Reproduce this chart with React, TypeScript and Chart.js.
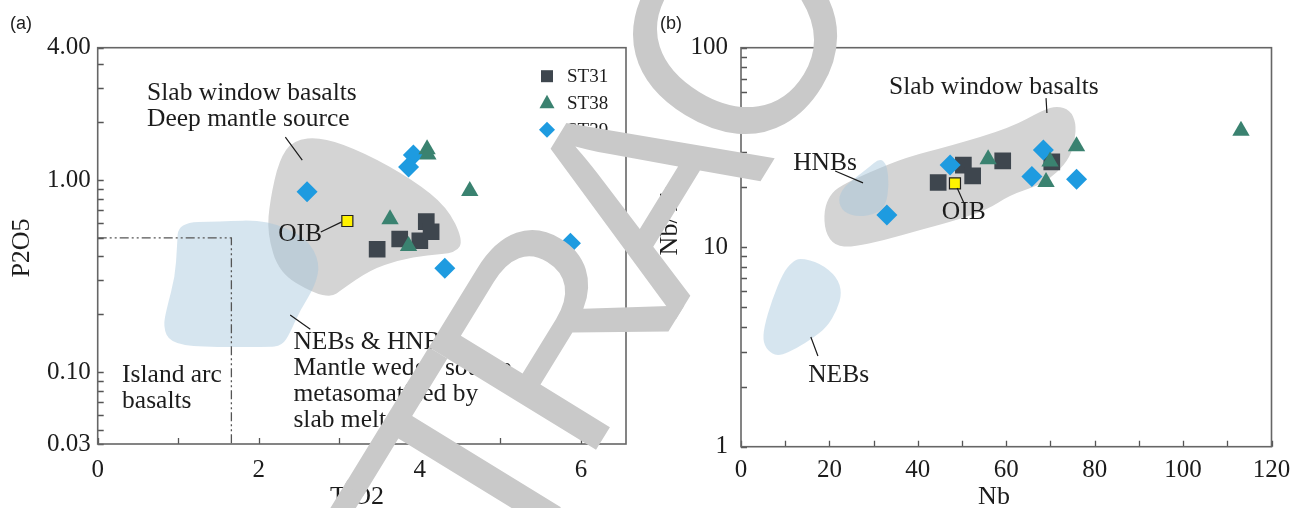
import React, { useEffect, useRef } from "react";
import { Chart, registerables } from "chart.js";

Chart.register(...registerables);

const SERIF = "'Liberation Serif', 'Times New Roman', serif";
const SANS = "'Liberation Sans', Arial, sans-serif";
const INK = "#1c1c1c";

const C_ST31 = "#3e464e";
const C_ST38 = "#3a8270";
const C_ST39 = "#1e9be0";
const C_OIB = "#fff200";
const C_SLAB = "#d4d4d4";
const C_NEB = "rgba(165,198,220,0.45)";

// ---------------- panel (a): TiO2 vs P2O5 ----------------
const A_X_MIN = 0;
const A_X_MAX = 6.56;
const A_Y_MIN = 0.0422;
const A_Y_MAX = 4.89;

const A_ST31_TIO2 = [3.47, 3.75, 4.0, 4.08, 4.14];
const A_ST31_P2O5 = [0.436, 0.493, 0.483, 0.607, 0.538];
const A_ST38_TIO2 = [4.09, 4.1, 4.62, 3.63, 3.86];
const A_ST38_P2O5 = [1.446, 1.357, 0.878, 0.625, 0.454];
const A_ST39_TIO2 = [2.6, 3.92, 3.86, 5.87, 4.31];
const A_ST39_P2O5 = [0.869, 1.35, 1.17, 0.468, 0.347];
const A_OIB_TIO2 = [3.1];
const A_OIB_P2O5 = [0.612];

const A_SLAB_TIO2 = [2.426, 2.786, 3.321, 3.917, 4.339, 4.538, 4.451, 4.091, 3.743, 3.383, 3.022, 2.91, 2.674, 2.252, 2.103, 2.14, 2.252];
const A_SLAB_P2O5 = [1.615, 1.675, 1.382, 1.0, 0.724, 0.487, 0.417, 0.407, 0.383, 0.34, 0.267, 0.246, 0.258, 0.328, 0.53, 0.787, 1.271];
const A_NEB_TIO2 = [1.0, 1.5, 2.103, 2.6, 2.762, 2.7, 2.513, 2.389, 2.29, 2.1, 1.271, 0.9, 0.811, 0.861, 0.96, 0.985];
const A_NEB_P2O5 = [0.6, 0.61, 0.619, 0.5, 0.37, 0.28, 0.21, 0.16, 0.137, 0.135, 0.135, 0.142, 0.172, 0.218, 0.313, 0.448];

const A_ARC_TIO2 = [0, 1.66, 1.66];
const A_ARC_P2O5 = [0.5, 0.5, A_Y_MIN];

const A_X_TICKS = [0, 1, 2, 3, 4, 5, 6];
const A_X_LABELS = ["0", "", "2", "", "4", "", "6"];
const A_Y_TICKS = [A_Y_MIN, 0.05, 0.06, 0.07, 0.08, 0.09, 0.1, 0.2, 0.3, 0.4, 0.5, 0.6, 0.7, 0.8, 0.9, 1, 2, 3, 4, A_Y_MAX];
const A_Y_LABELS = ["0.03", "", "", "", "", "", "0.10", "", "", "", "", "", "", "", "", "1.00", "", "", "", "4.00"];

// ---------------- panel (b): Nb vs Nb/Yb ----------------
const B_X_MIN = 0;
const B_X_MAX = 120;
const B_Y_MIN = 1;
const B_Y_MAX = 100;

const B_ST31_NB = [44.6, 50.3, 52.4, 59.2, 70.3];
const B_ST31_NBYB = [21.1, 25.8, 22.8, 27.1, 26.8];
const B_ST38_NB = [55.9, 69.9, 69.0, 75.9, 113.1];
const B_ST38_NBYB = [27.6, 26.9, 21.2, 32.1, 38.3];
const B_ST39_NB = [33.0, 47.3, 65.8, 68.4, 75.9];
const B_ST39_NBYB = [14.5, 25.8, 22.6, 30.7, 21.9];
const B_OIB_NB = [48.4];
const B_OIB_NBYB = [20.9];

const B_SLAB_NB = [22.39, 29.18, 37.55, 47.28, 60.85, 68.31, 71.48, 74.42, 75.78, 75.55, 74.42, 71.48, 67.63, 60.85, 55.65, 47.28, 40.49, 32.57, 25.33, 21.26, 19.0, 18.77, 20.13];
const B_SLAB_NBYB = [20.27, 23.82, 28.32, 32.16, 39.58, 48.72, 51.03, 48.72, 41.94, 34.45, 28.32, 23.55, 20.5, 18.27, 15.37, 13.38, 12.2, 10.87, 10.02, 10.14, 11.92, 15.37, 18.27];
const B_HNB_NB = [31.44, 33.03, 33.48, 32.8, 30.54, 26.47, 23.07, 21.94, 23.07, 25.79, 28.73];
const B_HNB_NBYB = [28.0, 25.79, 20.5, 16.27, 14.67, 14.17, 15.01, 17.25, 19.81, 22.23, 24.95];
const B_NEB_NB = [13.35, 17.87, 21.72, 22.85, 21.72, 19.45, 16.29, 12.67, 8.82, 6.56, 4.98, 5.2, 7.01, 9.5, 11.54];
const B_NEB_NBYB = [8.83, 8.33, 7.09, 5.89, 4.84, 3.98, 3.51, 3.12, 2.85, 2.95, 3.31, 3.98, 5.44, 7.42, 8.43];

const B_X_TICKS = [0, 10, 20, 30, 40, 50, 60, 70, 80, 90, 100, 110, 120];
const B_X_LABELS = ["0", "", "20", "", "40", "", "60", "", "80", "", "100", "", "120"];
const B_Y_TICKS = [1, 2, 3, 4, 5, 6, 7, 8, 9, 10, 20, 30, 40, 50, 60, 70, 80, 90, 100];
const B_Y_LABELS = ["1", "", "", "", "", "", "", "", "", "10", "", "", "", "", "", "", "", "", "100"];

// ---------------- annotations ----------------
type Note = { text: string; x: number; y: number; align: CanvasTextAlign };
type Leader = [number, number, number, number];

const A_NOTES: Note[] = [
  { text: "Slab window basalts", x: 0.613, y: 2.84, align: "left" },
  { text: "Deep mantle source", x: 0.613, y: 2.08, align: "left" },
  { text: "OIB", x: 2.514, y: 0.523, align: "center" },
  { text: "Island arc", x: 0.303, y: 0.0965, align: "left" },
  { text: "basalts", x: 0.303, y: 0.0706, align: "left" },
  { text: "NEBs & HNBs", x: 2.43, y: 0.143, align: "left" },
  { text: "Mantle wedge source", x: 2.43, y: 0.105, align: "left" },
  { text: "metasomatized by", x: 2.43, y: 0.0768, align: "left" },
  { text: "slab melt", x: 2.43, y: 0.0562, align: "left" },
];
const A_LEADERS: Leader[] = [
  [2.33, 1.675, 2.54, 1.27],
  [2.77, 0.536, 3.025, 0.604],
  [2.39, 0.198, 2.64, 0.167],
];
const B_NOTES: Note[] = [
  { text: "Slab window basalts", x: 33.5, y: 63.5, align: "left" },
  { text: "HNBs", x: 11.8, y: 26.4, align: "left" },
  { text: "OIB", x: 50.4, y: 15.0, align: "center" },
  { text: "NEBs", x: 15.2, y: 2.29, align: "left" },
];
const B_LEADERS: Leader[] = [
  [69.0, 55.9, 69.2, 47.1],
  [21.3, 24.1, 27.6, 21.0],
  [48.9, 19.8, 50.4, 16.7],
  [15.8, 3.55, 17.4, 2.85],
];

const LEGEND_LABELS = ["ST31", "ST38", "ST39"];
const WATERMARK = "RETRACTED";
const WATERMARK_GAP = [0, 0, 0, 0, 0, 5, 0, 0, 0];

// ---------------- helpers ----------------
function labelFor(ticks: number[], labels: string[], v: number) {
  for (let i = 0; i < ticks.length; i++) {
    if (Math.abs(ticks[i] - v) <= 1e-6 * Math.max(1e-9, Math.abs(ticks[i]))) return labels[i];
  }
  return "";
}

function pts(xs: number[], ys: number[]) {
  return xs.map((x, i) => ({ x, y: ys[i] }));
}

function smoothClosed(ctx: CanvasRenderingContext2D, p: number[][]) {
  const n = p.length;
  const mid = (a: number[], b: number[]) => [(a[0] + b[0]) / 2, (a[1] + b[1]) / 2];
  const m0 = mid(p[n - 1], p[0]);
  ctx.beginPath();
  ctx.moveTo(m0[0], m0[1]);
  for (let i = 0; i < n; i++) {
    const a = p[i];
    const m = mid(a, p[(i + 1) % n]);
    ctx.quadraticCurveTo(a[0], a[1], m[0], m[1]);
  }
  ctx.closePath();
}

function drawMarker(ctx: CanvasRenderingContext2D, kind: string, cx: number, cy: number, s: number, color: string) {
  ctx.fillStyle = color;
  ctx.beginPath();
  if (kind === "rect") {
    ctx.rect(cx - s / 2, cy - s / 2, s, s);
  } else if (kind === "triangle") {
    ctx.moveTo(cx, cy - s * 0.55);
    ctx.lineTo(cx + s / 2, cy + s * 0.35);
    ctx.lineTo(cx - s / 2, cy + s * 0.35);
    ctx.closePath();
  } else {
    ctx.moveTo(cx, cy - s / 2);
    ctx.lineTo(cx + s / 2, cy);
    ctx.lineTo(cx, cy + s / 2);
    ctx.lineTo(cx - s / 2, cy);
    ctx.closePath();
  }
  ctx.fill();
}

type Title = { text: string; x: number; y: number; rot: number };
type Decor = {
  polys: { xs: number[]; ys: number[]; fill: string }[];
  notes: Note[];
  leaders: Leader[];
  titles: Title[];
  panel: { text: string; x: number; y: number };
  legend: boolean;
};

function decorPlugin(id: string, cfg: Decor) {
  return {
    id,
    beforeDatasetsDraw(chart: any) {
      const { ctx, chartArea: ca } = chart;
      const xs = chart.scales.x;
      const ys = chart.scales.y;
      ctx.save();
      ctx.beginPath();
      ctx.rect(ca.left, ca.top, ca.right - ca.left, ca.bottom - ca.top);
      ctx.clip();
      for (const p of cfg.polys) {
        const q = p.xs.map((v, i) => [xs.getPixelForValue(v), ys.getPixelForValue(p.ys[i])]);
        smoothClosed(ctx, q);
        ctx.fillStyle = p.fill;
        ctx.fill();
      }
      ctx.restore();
    },
    afterDatasetsDraw(chart: any) {
      const { ctx, chartArea: ca } = chart;
      const xs = chart.scales.x;
      const ys = chart.scales.y;
      ctx.save();
      // inward tick marks
      ctx.strokeStyle = "#555";
      ctx.lineWidth = 1.3;
      ctx.beginPath();
      for (const t of xs.ticks) {
        const px = Math.round(xs.getPixelForValue(t.value)) + 0.5;
        ctx.moveTo(px, ca.bottom);
        ctx.lineTo(px, ca.bottom - 6);
      }
      for (const t of ys.ticks) {
        const py = Math.round(ys.getPixelForValue(t.value)) + 0.5;
        ctx.moveTo(ca.left, py);
        ctx.lineTo(ca.left + 6, py);
      }
      ctx.stroke();
      // frame
      ctx.strokeStyle = "#666";
      ctx.lineWidth = 1.6;
      ctx.strokeRect(ca.left, ca.top, ca.right - ca.left, ca.bottom - ca.top);
      // leaders
      ctx.strokeStyle = INK;
      ctx.lineWidth = 1.2;
      ctx.beginPath();
      for (const l of cfg.leaders) {
        ctx.moveTo(xs.getPixelForValue(l[0]), ys.getPixelForValue(l[1]));
        ctx.lineTo(xs.getPixelForValue(l[2]), ys.getPixelForValue(l[3]));
      }
      ctx.stroke();
      // notes
      ctx.fillStyle = INK;
      ctx.font = `25.5px ${SERIF}`;
      ctx.textBaseline = "middle";
      for (const n of cfg.notes) {
        ctx.textAlign = n.align;
        ctx.fillText(n.text, xs.getPixelForValue(n.x), ys.getPixelForValue(n.y));
      }
      // legend
      if (cfg.legend) {
        const kinds = ["rect", "triangle", "diamond"];
        const cols = [C_ST31, C_ST38, C_ST39];
        const sizes = [12, 15, 16];
        const mx = ca.right - 79;
        const tx = ca.right - 59;
        const y0 = ca.top + 28.5;
        ctx.font = `19px ${SERIF}`;
        ctx.textAlign = "left";
        for (let i = 0; i < 3; i++) {
          const yy = y0 + i * 26.8;
          drawMarker(ctx, kinds[i], mx, yy, sizes[i], cols[i]);
          ctx.fillStyle = INK;
          ctx.fillText(LEGEND_LABELS[i], tx, yy + 1);
        }
      }
      // axis titles
      ctx.fillStyle = INK;
      ctx.font = `26px ${SERIF}`;
      ctx.textAlign = "center";
      for (const t of cfg.titles) {
        ctx.save();
        ctx.translate(t.x, t.y);
        ctx.rotate(t.rot);
        ctx.fillText(t.text, 0, 0);
        ctx.restore();
      }
      // panel letter
      ctx.font = `18px ${SANS}`;
      ctx.textAlign = "left";
      ctx.fillText(cfg.panel.text, cfg.panel.x, cfg.panel.y);
      ctx.restore();
    },
  };
}

function scatterSet(label: string, data: any[], style: string, radius: number, color: string, border = color, bw = 0) {
  return {
    label,
    data,
    pointStyle: style,
    pointRadius: radius,
    pointHoverRadius: radius,
    backgroundColor: color,
    borderColor: border,
    borderWidth: bw,
    showLine: false,
  };
}

function axisX(min: number, max: number, ticks: number[], labels: string[], height: number, pad: number) {
  return {
    type: "linear",
    min,
    max,
    grid: { display: false, drawTicks: false },
    border: { display: false },
    afterBuildTicks: (s: any) => {
      s.ticks = ticks.map((v) => ({ value: v }));
    },
    afterFit: (s: any) => {
      s.height = height;
      s.paddingLeft = 0;
      s.paddingRight = 0;
    },
    ticks: {
      autoSkip: false,
      maxRotation: 0,
      minRotation: 0,
      padding: pad,
      color: INK,
      font: { family: SERIF, size: 25 },
      callback: (v: number) => labelFor(ticks, labels, v),
    },
  };
}

function axisY(min: number, max: number, ticks: number[], labels: string[], width: number, pad: number) {
  return {
    type: "logarithmic",
    min,
    max,
    grid: { display: false, drawTicks: false },
    border: { display: false },
    afterBuildTicks: (s: any) => {
      s.ticks = ticks.map((v) => ({ value: v }));
    },
    afterFit: (s: any) => {
      s.width = width;
      s.paddingTop = 0;
      s.paddingBottom = 0;
    },
    ticks: {
      autoSkip: false,
      padding: pad,
      color: INK,
      font: { family: SERIF, size: 25 },
      callback: (v: number) => labelFor(ticks, labels, v),
    },
  };
}

function configA(): any {
  return {
    type: "scatter",
    data: {
      datasets: [
        scatterSet("OIB", pts(A_OIB_TIO2, A_OIB_P2O5), "rect", 7.8, C_OIB, "#222", 1.2),
        scatterSet("ST38", pts(A_ST38_TIO2, A_ST38_P2O5), "triangle", 10, C_ST38),
        scatterSet("ST39", pts(A_ST39_TIO2, A_ST39_P2O5), "rectRot", 10.5, C_ST39),
        scatterSet("ST31", pts(A_ST31_TIO2, A_ST31_P2O5), "rect", 11.8, C_ST31),
        {
          label: "Island arc boundary",
          data: pts(A_ARC_TIO2, A_ARC_P2O5),
          showLine: true,
          pointRadius: 0,
          borderColor: "#555",
          borderWidth: 1.3,
          borderDash: [9, 3, 2, 3, 2, 3],
          fill: false,
        },
      ],
    },
    options: {
      responsive: false,
      animation: false,
      events: [],
      layout: { padding: { left: 0, top: 47.7, right: 19, bottom: 0 } },
      plugins: { legend: { display: false }, tooltip: { enabled: false } },
      scales: {
        x: axisX(A_X_MIN, A_X_MAX, A_X_TICKS, A_X_LABELS, 64, 11),
        y: axisY(A_Y_MIN, A_Y_MAX, A_Y_TICKS, A_Y_LABELS, 97.7, 7),
      },
    },
    plugins: [
      decorPlugin("decorA", {
        polys: [
          { xs: A_SLAB_TIO2, ys: A_SLAB_P2O5, fill: C_SLAB },
          { xs: A_NEB_TIO2, ys: A_NEB_P2O5, fill: C_NEB },
        ],
        notes: A_NOTES,
        leaders: A_LEADERS,
        titles: [
          { text: "P2O5", x: 22, y: 248, rot: -Math.PI / 2 },
          { text: "TiO2", x: 357, y: 497, rot: 0 },
        ],
        panel: { text: "(a)", x: 10, y: 24 },
        legend: true,
      }),
    ],
  };
}

function configB(): any {
  return {
    type: "scatter",
    data: {
      datasets: [
        scatterSet("OIB", pts(B_OIB_NB, B_OIB_NBYB), "rect", 7.8, C_OIB, "#222", 1.2),
        scatterSet("ST38", pts(B_ST38_NB, B_ST38_NBYB), "triangle", 10, C_ST38),
        scatterSet("ST39", pts(B_ST39_NB, B_ST39_NBYB), "rectRot", 10.5, C_ST39),
        scatterSet("ST31", pts(B_ST31_NB, B_ST31_NBYB), "rect", 11.8, C_ST31),
      ],
    },
    options: {
      responsive: false,
      animation: false,
      events: [],
      layout: { padding: { left: 0, top: 47.7, right: 19.5, bottom: 0 } },
      plugins: { legend: { display: false }, tooltip: { enabled: false } },
      scales: {
        x: axisX(B_X_MIN, B_X_MAX, B_X_TICKS, B_X_LABELS, 61.3, 8.5),
        y: axisY(B_Y_MIN, B_Y_MAX, B_Y_TICKS, B_Y_LABELS, 96, 13),
      },
    },
    plugins: [
      decorPlugin("decorB", {
        polys: [
          { xs: B_SLAB_NB, ys: B_SLAB_NBYB, fill: C_SLAB },
          { xs: B_HNB_NB, ys: B_HNB_NBYB, fill: C_NEB },
          { xs: B_NEB_NB, ys: B_NEB_NBYB, fill: C_NEB },
        ],
        notes: B_NOTES,
        leaders: B_LEADERS,
        titles: [
          { text: "Nb/Yb", x: 25, y: 220, rot: -Math.PI / 2 },
          { text: "Nb", x: 349, y: 497, rot: 0 },
        ],
        panel: { text: "(b)", x: 15, y: 24 },
        legend: false,
      }),
    ],
  };
}

function drawWatermark(cv: HTMLCanvasElement) {
  const ctx = cv.getContext("2d");
  if (!ctx) return;
  ctx.clearRect(0, 0, cv.width, cv.height);
  ctx.save();
  ctx.translate(333, 879);
  ctx.rotate((-58.5 * Math.PI) / 180);
  ctx.font = `285px ${SANS}`;
  ctx.fillStyle = "#c9c9c9";
  ctx.textBaseline = "alphabetic";
  ctx.textAlign = "left";
  const spacing = -30;
  let x = 0;
  const chars = WATERMARK.split("");
  chars.forEach((ch, i) => {
    x += WATERMARK_GAP[i] || 0;
    ctx.fillText(ch, x, 0);
    x += ctx.measureText(ch).width + spacing;
  });
  ctx.restore();
}

export default function App() {
  const refA = useRef<HTMLCanvasElement>(null);
  const refB = useRef<HTMLCanvasElement>(null);
  const refW = useRef<HTMLCanvasElement>(null);

  useEffect(() => {
    const a = new Chart(refA.current as HTMLCanvasElement, configA());
    const b = new Chart(refB.current as HTMLCanvasElement, configB());
    if (refW.current) drawWatermark(refW.current);
    return () => {
      a.destroy();
      b.destroy();
    };
  }, []);

  return (
    <div style={{ position: "absolute", left: 0, top: 0, width: 1291, height: 508, background: "#fff", overflow: "hidden" }}>
      <canvas ref={refA} width={645} height={508} style={{ position: "absolute", left: 0, top: 0, width: 645, height: 508 }} />
      <canvas ref={refB} width={646} height={508} style={{ position: "absolute", left: 645, top: 0, width: 646, height: 508 }} />
      <canvas
        ref={refW}
        width={1291}
        height={508}
        style={{ position: "absolute", left: 0, top: 0, width: 1291, height: 508, pointerEvents: "none" }}
      />
    </div>
  );
}
